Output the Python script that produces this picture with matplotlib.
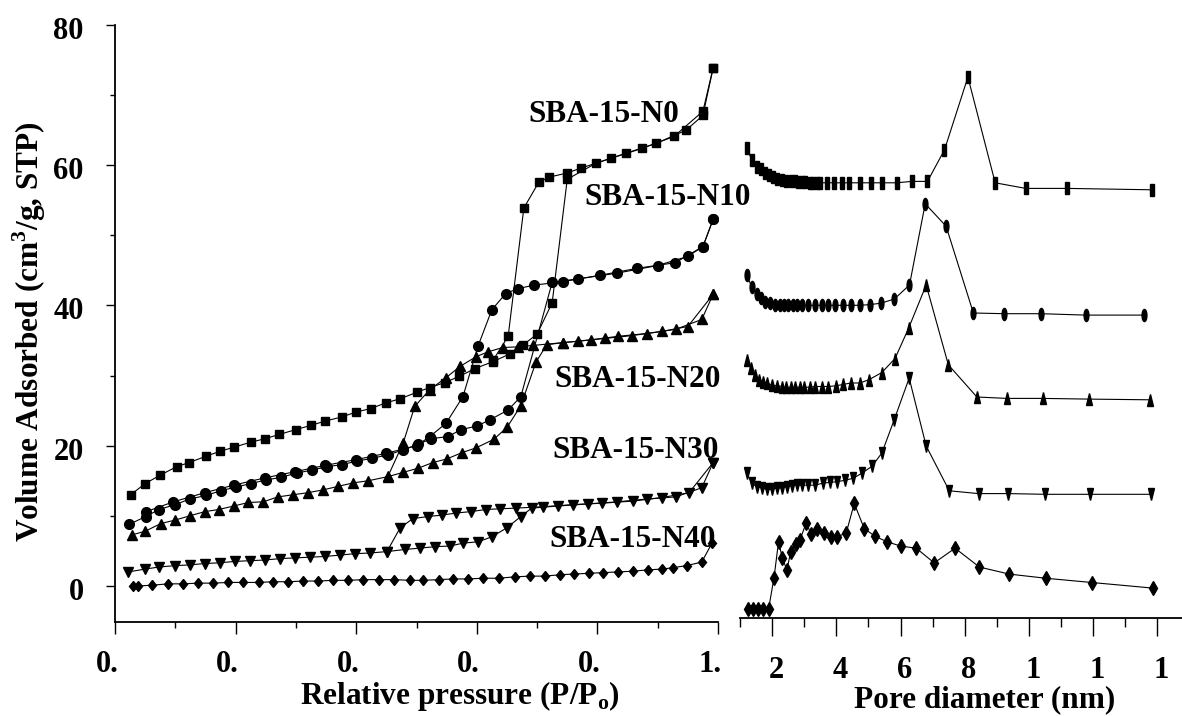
import matplotlib
matplotlib.use('Agg')
import matplotlib.pyplot as plt
from matplotlib.markers import MarkerStyle
from matplotlib.transforms import Affine2D, ScaledTranslation

plt.rcParams['font.family'] = 'Liberation Serif'
plt.rcParams['font.weight'] = 'bold'
plt.rcParams['mathtext.fontset'] = 'custom'
plt.rcParams['mathtext.rm'] = 'Liberation Serif:bold'

# ---------------- isotherm data (left panel) ----------------
n0_ads_p = [0.026, 0.050, 0.075, 0.102, 0.123, 0.151, 0.174, 0.198, 0.225, 0.249, 0.272, 0.300,
            0.325, 0.348, 0.376, 0.400, 0.424, 0.449, 0.473, 0.500, 0.522, 0.547, 0.571, 0.597,
            0.627, 0.655, 0.677, 0.700, 0.725, 0.750, 0.798, 0.847, 0.897, 0.947, 0.975, 0.992]
n0_ads_v = [13.0, 14.6, 15.8, 17.0, 17.6, 18.5, 19.2, 19.8, 20.5, 21.0, 21.6, 22.3,
            22.9, 23.5, 24.1, 24.8, 25.3, 26.1, 26.7, 27.6, 28.3, 29.0, 29.9, 31.0,
            32.0, 33.1, 34.4, 35.9, 40.4, 58.0, 60.3, 61.7, 63.1, 65.0, 67.1, 73.9]
n0_des_p = [0.992, 0.975, 0.927, 0.874, 0.823, 0.773, 0.750, 0.720, 0.703, 0.678, 0.652, 0.627]
n0_des_v = [73.9, 67.7, 64.1, 62.4, 61.0, 59.6, 58.9, 58.3, 57.6, 53.9, 35.6, 32.2]

n10_ads_p = [0.024, 0.051, 0.073, 0.100, 0.124, 0.151, 0.176, 0.201, 0.225, 0.250, 0.276, 0.301,
             0.326, 0.351, 0.376, 0.401, 0.426, 0.453, 0.478, 0.503, 0.524, 0.552, 0.574, 0.600,
             0.622, 0.652, 0.673, 0.725, 0.768, 0.832, 0.900, 0.950, 0.975, 0.992]
n10_ads_v = [8.8, 9.9, 10.9, 11.6, 12.4, 12.9, 13.6, 14.1, 14.6, 15.1, 15.5, 16.1,
             16.5, 17.0, 17.3, 17.8, 18.2, 18.7, 19.4, 20.2, 21.0, 21.3, 22.3, 22.8,
             23.7, 25.1, 27.0, 43.3, 43.8, 44.6, 45.7, 47.0, 48.4, 52.3]
n10_des_p = [0.992, 0.975, 0.929, 0.866, 0.804, 0.743, 0.695, 0.668, 0.648, 0.625, 0.602, 0.577,
             0.549, 0.522, 0.500, 0.449, 0.399, 0.349, 0.299, 0.248, 0.198, 0.149, 0.097, 0.052]
n10_des_v = [52.3, 48.4, 46.1, 45.3, 44.3, 43.4, 42.9, 42.4, 41.7, 39.4, 34.2, 27.0,
             23.2, 21.3, 20.0, 18.9, 18.0, 17.2, 16.3, 15.4, 14.4, 13.3, 12.0, 10.6]

n20_ads_p = [0.029, 0.050, 0.076, 0.100, 0.124, 0.149, 0.172, 0.197, 0.221, 0.246, 0.270, 0.295,
             0.320, 0.345, 0.370, 0.395, 0.420, 0.453, 0.478, 0.503, 0.527, 0.550, 0.575, 0.599,
             0.628, 0.650, 0.673, 0.698, 0.716, 0.743, 0.789, 0.834, 0.882, 0.930, 0.973, 0.992]
n20_ads_v = [7.3, 7.8, 8.9, 9.4, 10.0, 10.6, 10.9, 11.4, 11.9, 12.0, 12.7, 13.0,
             13.3, 13.7, 14.2, 14.7, 15.0, 15.6, 16.2, 16.8, 17.6, 18.1, 19.0, 19.7,
             20.9, 22.6, 25.7, 31.9, 34.4, 34.7, 35.1, 35.6, 36.0, 36.6, 38.0, 41.6]
n20_des_p = [0.992, 0.950, 0.907, 0.857, 0.813, 0.768, 0.743, 0.693, 0.668, 0.643, 0.619, 0.599,
             0.572, 0.549, 0.522, 0.497, 0.478, 0.453]
n20_des_v = [41.6, 37.0, 36.3, 35.7, 35.3, 34.9, 34.7, 34.3, 34.1, 34.0, 33.4, 32.7,
             31.3, 29.7, 28.0, 25.6, 20.4, 15.7]

n30_ads_p = [0.022, 0.050, 0.073, 0.100, 0.124, 0.149, 0.174, 0.199, 0.224, 0.249, 0.274, 0.299,
             0.323, 0.348, 0.373, 0.398, 0.423, 0.451, 0.481, 0.506, 0.531, 0.556, 0.577, 0.602,
             0.625, 0.650, 0.673, 0.691, 0.735, 0.784, 0.833, 0.882, 0.930, 0.973, 0.992]
n30_ads_v = [2.0, 2.4, 2.7, 2.9, 3.0, 3.2, 3.3, 3.5, 3.6, 3.7, 3.9, 4.0,
             4.1, 4.2, 4.4, 4.6, 4.7, 4.9, 5.2, 5.4, 5.6, 5.7, 6.1, 6.3,
             7.0, 8.3, 9.9, 11.1, 11.4, 11.7, 12.0, 12.4, 12.7, 14.0, 17.6]
n30_des_p = [0.992, 0.952, 0.907, 0.859, 0.808, 0.760, 0.710, 0.665, 0.638, 0.615, 0.590, 0.566,
             0.542, 0.519, 0.494, 0.473, 0.451]
n30_des_v = [17.6, 13.3, 12.6, 12.1, 11.8, 11.6, 11.3, 11.1, 11.0, 10.9, 10.6, 10.4,
             10.1, 9.9, 9.6, 8.3, 4.9]

n40_p = [0.030, 0.038, 0.061, 0.088, 0.113, 0.138, 0.163, 0.188, 0.213, 0.238, 0.262, 0.287,
         0.312, 0.337, 0.362, 0.387, 0.412, 0.438, 0.463, 0.489, 0.511, 0.537, 0.561, 0.586,
         0.611, 0.637, 0.663, 0.688, 0.713, 0.738, 0.761, 0.786, 0.809, 0.834, 0.859, 0.884,
         0.907, 0.925, 0.948, 0.973, 0.990]
n40_v = [0.0, 0.0, 0.1, 0.3, 0.3, 0.4, 0.4, 0.5, 0.5, 0.5, 0.6, 0.6,
         0.7, 0.7, 0.8, 0.8, 0.9, 0.9, 0.9, 0.8, 0.8, 0.9, 1.0, 1.0,
         1.1, 1.1, 1.3, 1.4, 1.4, 1.6, 1.7, 1.8, 1.9, 2.0, 2.1, 2.3,
         2.4, 2.6, 2.9, 3.4, 6.1]

# ---------------- pore size data (right panel, offset curves) ----------------
n0_d = [1.21, 1.37, 1.52, 1.64, 1.78, 1.91, 2.04, 2.16, 2.30, 2.43, 2.58, 2.72, 2.82, 2.93,
        3.03, 3.17, 3.27, 3.40, 3.50, 3.72, 3.93, 4.17, 4.41, 4.74, 5.07, 5.41, 5.88, 6.35,
        6.84, 7.37, 8.10, 8.95, 9.90, 11.18, 13.85]
n0_dv = [62.5, 60.9, 59.9, 59.5, 59.0, 58.7, 58.4, 58.2, 58.0, 57.9, 57.8, 57.8, 57.7, 57.7,
         57.7, 57.6, 57.6, 57.6, 57.6, 57.6, 57.6, 57.6, 57.6, 57.6, 57.6, 57.6, 57.6, 57.8,
         57.8, 62.3, 72.7, 57.6, 56.8, 56.8, 56.6]

n10_d = [1.21, 1.37, 1.52, 1.65, 1.78, 1.94, 2.09, 2.25, 2.37, 2.51, 2.66, 2.77, 2.93, 3.13,
         3.34, 3.55, 3.75, 3.96, 4.22, 4.45, 4.74, 5.05, 5.39, 5.81, 6.28, 6.77, 7.42, 8.27,
         9.23, 10.37, 11.77, 13.59]
n10_dv = [44.4, 42.7, 41.7, 41.1, 40.6, 40.4, 40.2, 40.1, 40.1, 40.1, 40.1, 40.1, 40.1, 40.1,
          40.1, 40.1, 40.1, 40.1, 40.1, 40.1, 40.1, 40.2, 40.4, 41.0, 43.0, 54.6, 51.4, 39.0,
          38.9, 38.9, 38.7, 38.7]

n20_d = [1.21, 1.34, 1.47, 1.60, 1.73, 1.85, 1.99, 2.15, 2.30, 2.44, 2.58, 2.72, 2.86, 3.00,
         3.17, 3.34, 3.55, 3.75, 3.99, 4.22, 4.45, 4.74, 5.03, 5.42, 5.83, 6.25, 6.80, 7.49,
         8.38, 9.31, 10.43, 11.86, 13.76]
n20_dv = [32.3, 31.1, 30.1, 29.5, 29.2, 29.0, 28.7, 28.6, 28.5, 28.4, 28.4, 28.4, 28.4, 28.4,
          28.4, 28.5, 28.5, 28.5, 28.6, 28.8, 29.0, 29.0, 29.5, 30.5, 32.5, 36.8, 43.0, 31.6,
          27.0, 26.8, 26.8, 26.7, 26.6]

n30_d = [1.21, 1.37, 1.52, 1.68, 1.83, 1.99, 2.15, 2.30, 2.46, 2.61, 2.77, 2.93, 3.13, 3.34,
         3.58, 3.79, 4.02, 4.27, 4.53, 4.79, 5.11, 5.42, 5.80, 6.27, 6.80, 7.52, 8.43, 9.36,
         10.50, 11.91, 13.80]
n30_dv = [16.1, 14.7, 14.2, 14.0, 13.8, 13.8, 14.0, 14.0, 14.2, 14.3, 14.4, 14.4, 14.4, 14.4,
          14.7, 14.8, 14.9, 15.1, 15.4, 16.1, 17.1, 19.0, 23.7, 29.7, 20.0, 13.6, 13.2, 13.2,
          13.1, 13.1, 13.1]

n40_d = [1.26, 1.42, 1.57, 1.73, 1.89, 2.06, 2.20, 2.32, 2.46, 2.58, 2.74, 2.87, 3.06, 3.21,
         3.41, 3.62, 3.83, 4.03, 4.31, 4.56, 4.87, 5.21, 5.59, 6.01, 6.49, 7.05, 7.70, 8.46,
         9.39, 10.54, 11.96, 13.86]
n40_dv = [-3.3, -3.3, -3.3, -3.3, -3.3, 1.2, 6.3, 4.0, 2.3, 4.9, 6.0, 6.6, 9.0, 7.5,
          8.1, 7.6, 7.0, 7.0, 7.6, 11.8, 8.2, 7.1, 6.3, 5.7, 5.4, 3.3, 5.4, 2.7,
          1.7, 1.1, 0.5, -0.3]

labels = ['SBA-15-N0', 'SBA-15-N10', 'SBA-15-N20', 'SBA-15-N30', 'SBA-15-N40']
label_pos = [(0.811, 66.1), (0.917, 54.4), (0.866, 28.4), (0.864, 18.3), (0.859, 5.6)]

W, H = 1182, 716
fig = plt.figure(figsize=(W / 100, H / 100), dpi=100)
ax2 = fig.add_axes([740 / W, 1 - 618 / H, (W - 740) / W, (618 - 25) / H])
ax1 = fig.add_axes([115 / W, 1 - 622 / H, (718 - 115) / W, (622 - 25) / H])
ax1.patch.set_visible(False)
ax2.patch.set_visible(False)

lw = 0.8
mk = dict(color='black', lw=lw, mec='black', mfc='black')

# left markers
sq = MarkerStyle('s')
ci = MarkerStyle('o')
tu = MarkerStyle('^')
td = MarkerStyle('v')
di = MarkerStyle('D', transform=Affine2D().scale(0.8, 1.0))

ax1.plot(n0_ads_p, n0_ads_v, marker=sq, ms=6, **mk)
ax1.plot(n0_des_p, n0_des_v, marker=sq, ms=6, **mk)
ax1.plot(n10_ads_p, n10_ads_v, marker=ci, ms=7, **mk)
ax1.plot(n10_des_p, n10_des_v, marker=ci, ms=7, **mk)
ax1.plot(n20_ads_p, n20_ads_v, marker=tu, ms=7.5, **mk)
ax1.plot(n20_des_p, n20_des_v, marker=tu, ms=7.5, **mk)
ax1.plot(n30_ads_p, n30_ads_v, marker=td, ms=7.5, **mk)
ax1.plot(n30_des_p, n30_des_v, marker=td, ms=7.5, **mk)
ax1.plot(n40_p, n40_v, marker=di, ms=5.5, **mk)

for txt, (px, py) in zip(labels, label_pos):
    ax1.text(px, py, txt, fontsize=22.5, fontweight='bold', ha='center', va='baseline', zorder=5)

# right markers: narrow, tall glyphs
sq2 = MarkerStyle('s', transform=Affine2D().scale(0.45, 1.35))
ci2 = MarkerStyle('o', transform=Affine2D().scale(0.5, 1.25))
tu2 = MarkerStyle('^', transform=Affine2D().scale(0.6, 1.15))
td2 = MarkerStyle('v', transform=Affine2D().scale(0.6, 1.15))
di2 = MarkerStyle('D', transform=Affine2D().scale(0.6, 1.2))

ax2.plot(n0_d, n0_dv, marker=sq2, ms=6.5, **mk)
ax2.plot(n10_d, n10_dv, marker=ci2, ms=7, **mk)
ax2.plot(n20_d, n20_dv, marker=tu2, ms=7, **mk)
ax2.plot(n30_d, n30_dv, marker=td2, ms=7, **mk)
ax2.plot(n40_d, n40_dv, marker=di2, ms=6.3, **mk)

# axes styling
ax1.set_xlim(0, 1.0)
ax1.set_ylim((586 - 622) / 7, 80)
ax2.set_xlim(1, 1 + (W - 740) / 32.1)
ax2.set_ylim((586 - 618) / 7, (586 - 25) / 7)

for s in ['top', 'right']:
    ax1.spines[s].set_visible(False)
for s in ['top', 'right', 'left']:
    ax2.spines[s].set_visible(False)
for s in ['left', 'bottom']:
    ax1.spines[s].set_linewidth(1.3)
ax2.spines['bottom'].set_linewidth(1.3)

ax1.set_xticks([0, 0.2, 0.4, 0.6, 0.8, 1.0])
ax1.set_xticklabels(['0.', '0.', '0.', '0.', '0.', '1.'])
ax1.set_xticks([0.1, 0.3, 0.5, 0.7, 0.9], minor=True)
ax1.set_yticks([0, 20, 40, 60, 80])
ax1.set_yticks([10, 30, 50, 70], minor=True)
ax1.tick_params(axis='y', which='major', direction='out', length=6.5, width=1.0, pad=16, labelsize=22)
ax1.tick_params(axis='y', which='minor', direction='out', length=3.6, width=1.0)
ax1.tick_params(axis='x', which='major', direction='out', length=8.4, width=1.0, pad=12, labelsize=22)
ax1.tick_params(axis='x', which='minor', direction='out', length=4.0, width=1.0)

ax2.set_xticks([2, 4, 6, 8, 10, 12, 14])
ax2.set_xticklabels(['2', '4', '6', '8', '1', '1', '1'])
ax2.set_xticks([1, 3, 5, 7, 9, 11, 13], minor=True)
ax2.set_yticks([])
ax2.tick_params(axis='x', which='major', direction='out', length=13, width=1.0, pad=14, labelsize=22)
ax2.tick_params(axis='x', which='minor', direction='out', length=6.5, width=1.0)

shift_l = ScaledTranslation(-8 / 100, 0, fig.dpi_scale_trans)
for lab in ax1.get_xticklabels():
    lab.set_transform(lab.get_transform() + shift_l)
shift_r = ScaledTranslation(4 / 100, 0, fig.dpi_scale_trans)
for lab in ax2.get_xticklabels():
    lab.set_transform(lab.get_transform() + shift_r)
shift_y = ScaledTranslation(0, -3 / 100, fig.dpi_scale_trans)
for lab in ax1.get_yticklabels():
    lab.set_transform(lab.get_transform() + shift_y)
for lab in ax1.get_yticklabels() + ax1.get_xticklabels() + ax2.get_xticklabels():
    lab.set_fontweight('bold')

fig.text(29 / W, 1 - 332 / H, r'Volume Adsorbed (cm$^\mathregular{3}$/g, STP)', rotation=90,
         fontsize=22.5, fontweight='bold', ha='center', va='center')
fig.text(460 / W, 1 - 704 / H, r'Relative pressure (P/P$_\mathregular{o}$)',
         fontsize=22.5, fontweight='bold', ha='center', va='baseline')
fig.text(985 / W, 1 - 707 / H, 'Pore diameter (nm)',
         fontsize=22.5, fontweight='bold', ha='center', va='baseline')

fig.savefig('out.png', dpi=100)
